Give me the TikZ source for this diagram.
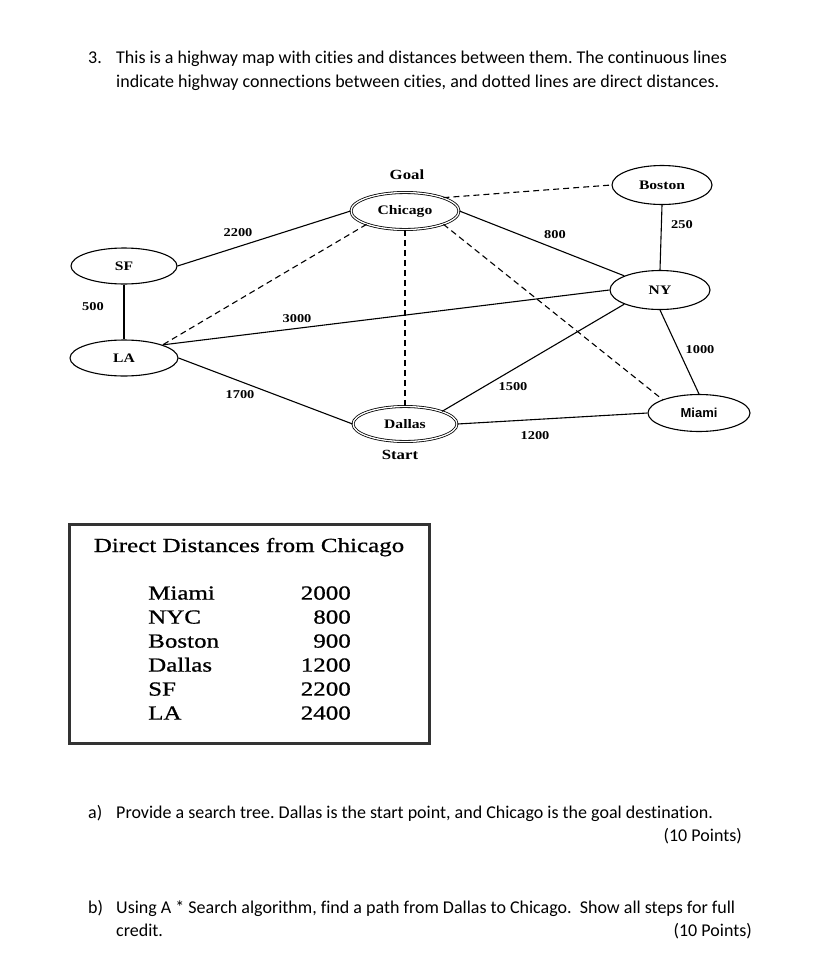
\documentclass[tikz,border=0pt]{standalone}
\usepackage{fontspec}
\setmainfont{Liberation Serif}
\newfontfamily\bodyfont[Ligatures=NoCommon]{Carlito}
\newfontfamily\mapfont[FakeStretch=1.2]{Liberation Serif}
\newfontfamily\tablefont[FakeStretch=1.25, FakeBold=0.8]{Liberation Serif}
\newfontfamily\miamifont{Liberation Sans}
\usetikzlibrary{shapes.geometric}
\frenchspacing
\tikzset{
  city/.style={
    ellipse, draw, line width=1.1pt,   % plain city
    inner sep=0pt,
    font=\mapfont\bfseries\fontsize{13}{13}\selectfont
  },
  endcity/.style={city, double, double distance=1.3pt, line width=0.8pt},
  road/.style={line width=1.1pt},
  direct/.style={line width=1.1pt, dash pattern=on 6pt off 4pt},
  dist/.style={font=\mapfont\bfseries\fontsize{12}{12}\selectfont, inner sep=0pt},
  tag/.style={font=\mapfont\bfseries\fontsize{14}{14}\selectfont, inner sep=0pt},
  tablerow/.style={font=\tablefont\fontsize{20}{20}\selectfont, inner sep=0pt},
  question/.style={font=\bodyfont\fontsize{18}{18}\selectfont, anchor=base west, inner sep=0pt}
}

\begin{document}
\begin{tikzpicture}[x=1pt, y=-1pt]
    \useasboundingbox (0,0) rectangle (828,969);

    % Question text
    \node[question] (num) at (88,63) {3.};
    \node[question] (q1) at (116,63) {This is a highway map with cities and distances between them. The continuous lines};
    \node[question] (q2) at (116,87) {indicate highway connections between cities, and dotted lines are direct distances.};

    % Cities
    \node[endcity, minimum width=108pt, minimum height=37pt] (chicago) at (405,211) {Chicago};
    \node[city, minimum width=100pt, minimum height=39pt] (boston) at (662,185) {Boston};
    \node[city, minimum width=106pt, minimum height=36pt] (sf) at (124,266) {SF};
    \node[city, minimum width=100pt, minimum height=39pt] (ny) at (660,290) {NY};
    \node[city, minimum width=108pt, minimum height=36pt] (la) at (124,358) {LA};
    \node[endcity, minimum width=104pt, minimum height=35pt] (dallas) at (405,424) {Dallas};
    \node[city, minimum width=102pt, minimum height=37pt] (miami) at (699,413) {\miamifont Miami};
    \node[tag] (goal) at (407,175) {Goal};
    \node[tag] (start) at (400,455) {Start};

    % Highways
    \draw[road] (sf.east) -- (chicago.west);
    \draw[road] (sf.south) -- (la.north);
    \draw[road] (la.north east) -- (ny.west);
    \draw[road] (la.east) -- (dallas.west);
    \draw[road] (chicago.east) -- (ny.north west);
    \draw[road] (boston.south) -- (ny.north);
    \draw[road] (ny.south) -- (miami.north);
    \draw[road] (dallas.north east) -- (ny.south west);
    \draw[road] (dallas.east) -- (miami.west);

    % Direct distances
    \draw[direct] (chicago.north east) -- (boston.west);
    \draw[direct] (chicago.south west) -- (la.north east);
    \draw[direct] (chicago.south) -- (dallas.north);
    \draw[direct] (chicago.south east) -- (miami.north west);

    % Distances
    \node[dist] (d2200) at (238,233) {2200};
    \node[dist] (d500) at (93,307) {500};
    \node[dist] (d3000) at (297,319) {3000};
    \node[dist] (d1700) at (240,395) {1700};
    \node[dist] (d800) at (555,235) {800};
    \node[dist] (d250) at (682,225) {250};
    \node[dist] (d1000) at (700,350) {1000};
    \node[dist] (d1500) at (513,387) {1500};
    \node[dist] (d1200) at (535,436) {1200};

    % Table of direct distances
    \node[draw=black!80, line width=3pt, minimum width=360pt, minimum height=219pt, inner sep=0pt] (table) at (249,634) {};
    \node[tablerow, anchor=base] (title) at (249,552) {Direct Distances from Chicago};
    \foreach \name/\val [count=\i] in {Miami/2000, NYC/800, Boston/900, Dallas/1200, SF/2200, LA/2400} {
      \node[tablerow, anchor=base west] (name\i) at (148,575.6+24*\i) {\name};
      \node[tablerow, anchor=base east] (val\i) at (351,575.6+24*\i) {\val};
    }

    % Parts of the question
    \node[question] (pa) at (88,818) {a)};
    \node[question] (qa) at (116,818) {Provide a search tree. Dallas is the start point, and Chicago is the goal destination.};
    \node[question, anchor=base east] (ptsa) at (742,841) {(10 Points)};
    \node[question] (pb) at (88,913) {b)};
    \node[question] (qb) at (116,913) {Using A * Search algorithm, find a path from Dallas to Chicago.\ \ Show all steps for full};
    \node[question] (qb2) at (116,936) {credit.};
    \node[question, anchor=base east] (ptsb) at (752,936) {(10 Points)};
\end{tikzpicture}
\end{document}
